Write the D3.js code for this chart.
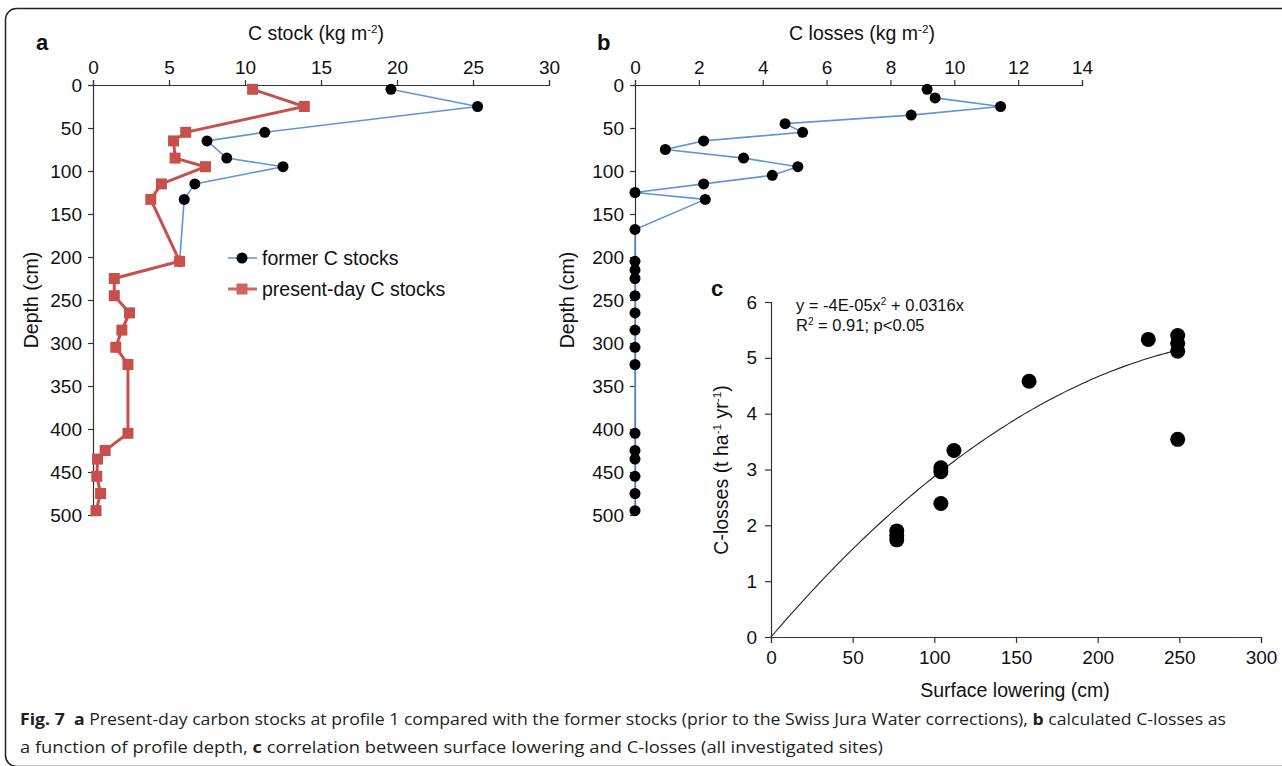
<!DOCTYPE html>
<html>
<head>
<meta charset="utf-8">
<script src="https://cdn.jsdelivr.net/npm/d3@7"></script>
<style>
  body { margin: 0; background: #fff; }
  text { font-family: "Liberation Sans", Arial, sans-serif; fill: #111; }
  .tick text { font-size: 19px; }
  .caption { font-family: "Open Sans", "Noto Sans", sans-serif; font-size: 16.5px; fill: #231f20; }
</style>
</head>
<body>
<svg id="chart"></svg>
<script>
var width = 1282;
var height = 766;

// panel a: C stock profile
var formerDepth = [5, 25, 55, 65, 85, 95, 115, 133, 205];
var formerStock = [19.6, 25.3, 11.3, 7.5, 8.8, 12.5, 6.7, 6.0, 5.7];
var presentDepth = [5, 25, 55, 65, 85, 95, 115, 133, 205, 225, 245, 265, 285, 305, 325, 405, 425, 435, 455, 475, 495];
var presentStock = [10.5, 13.9, 6.1, 5.3, 5.4, 7.4, 4.5, 3.8, 5.7, 1.4, 1.4, 2.4, 1.9, 1.5, 2.3, 2.3, 0.8, 0.3, 0.25, 0.5, 0.2];
var stockTicks = [0, 5, 10, 15, 20, 25, 30];
var depthTicks = [0, 50, 100, 150, 200, 250, 300, 350, 400, 450, 500];

// panel b: C losses profile
var lossDepth = [5, 15, 25, 35, 45, 55, 65, 75, 85, 95, 105, 115, 125, 133, 168, 205, 215, 225, 245, 265, 285, 305, 325, 405, 425, 435, 455, 475, 495];
var lossValue = [9.15, 9.4, 11.45, 8.65, 4.7, 5.25, 2.15, 0.95, 3.4, 5.1, 4.3, 2.15, 0, 2.2, 0, 0, 0, 0, 0, 0, 0, 0, 0, 0, 0, 0, 0, 0, 0];
var lossTicks = [0, 2, 4, 6, 8, 10, 12, 14];

// panel c: surface lowering vs C-losses
var lowering = [77, 77, 77, 104, 104, 104, 112, 158, 231, 249, 249, 249, 249];
var closses = [1.9, 1.82, 1.74, 3.03, 2.96, 2.39, 3.34, 4.58, 5.33, 5.4, 5.26, 5.12, 3.54];
var loweringTicks = [0, 50, 100, 150, 200, 250, 300];
var clossTicks = [0, 1, 2, 3, 4, 5, 6];
// fitted curve as drawn (y = a*x^2 + b*x)
var fitA = -5.45e-5;
var fitB = 0.0342;

var blue = "#5f97d6";
var red = "#c8504c";

var svg = d3.select("#chart")
    .attr("width", width)
    .attr("height", height);

// frame
svg.append("rect")
    .attr("x", 5.5).attr("y", 8.5)
    .attr("width", 1300).attr("height", 758)
    .attr("rx", 11)
    .attr("fill", "none")
    .attr("stroke", "#222")
    .attr("stroke-width", 1.5);

function styleAxis(g) {
    g.attr("font-family", null).attr("font-size", null);
    g.selectAll(".domain").attr("stroke", "#333").attr("stroke-width", 1.2);
    g.selectAll(".tick line").attr("stroke", "#333").attr("stroke-width", 1.2);
    g.selectAll(".tick text").attr("fill", "#111");
}

// text with superscripts: parts like {t: "..."} or {sup: "..."}
function supLabel(g, x, y, parts, rotate, size) {
    size = size || 19.5;
    var t = g.append("text")
        .attr("text-anchor", "middle")
        .style("font-size", size + "px")
        .attr("transform", "translate(" + x + "," + y + ")" + (rotate ? " rotate(-90)" : ""));
    var shift = 0;
    parts.forEach(function(p) {
        if (p.sup) {
            t.append("tspan").attr("dy", -7 - shift).style("font-size", (size * 0.6) + "px").text(p.sup);
            shift = -7;
        } else {
            t.append("tspan").attr("dy", -shift).text(p.t);
            shift = 0;
        }
    });
    return t;
}

// ---------- panel a ----------
var depthA = d3.scaleLinear().domain([0, 500]).range([85, 515]);
var xA = d3.scaleLinear().domain([0, 30]).range([93, 549]);

var axA = svg.append("g")
    .attr("transform", "translate(0,85)")
    .call(d3.axisTop(xA).tickValues(stockTicks).tickSize(5).tickPadding(6));
styleAxis(axA);
var ayA = svg.append("g")
    .attr("transform", "translate(93,0)")
    .call(d3.axisLeft(depthA).tickValues(depthTicks).tickSize(5).tickPadding(6));
styleAxis(ayA);

svg.append("text").attr("x", 36).attr("y", 50)
    .style("font-size", "22px").style("font-weight", "bold").text("a");
supLabel(svg, 316, 40, [{t: "C stock (kg m"}, {sup: "-2"}, {t: ")"}]);
supLabel(svg, 38, 300, [{t: "Depth (cm)"}], true);

var lineA = d3.line()
    .x(function(d) { return xA(d[0]); })
    .y(function(d) { return depthA(d[1]); });

var formerPts = d3.zip(formerStock, formerDepth);
var presentPts = d3.zip(presentStock, presentDepth);

svg.append("path").datum(formerPts)
    .attr("d", lineA).attr("fill", "none")
    .attr("stroke", blue).attr("stroke-width", 1.6);
svg.append("g").selectAll("circle").data(formerPts).enter().append("circle")
    .attr("cx", function(d) { return xA(d[0]); })
    .attr("cy", function(d) { return depthA(d[1]); })
    .attr("r", 5.5).attr("fill", "#000");

svg.append("path").datum(presentPts)
    .attr("d", lineA).attr("fill", "none")
    .attr("stroke", red).attr("stroke-width", 3);
svg.append("g").selectAll("rect").data(presentPts).enter().append("rect")
    .attr("x", function(d) { return xA(d[0]) - 5.5; })
    .attr("y", function(d) { return depthA(d[1]) - 5.5; })
    .attr("width", 11).attr("height", 11).attr("fill", red);

// legend
var leg = svg.append("g");
leg.append("line").attr("x1", 228).attr("x2", 257).attr("y1", 258).attr("y2", 258)
    .attr("stroke", blue).attr("stroke-width", 1.6);
leg.append("circle").attr("cx", 242).attr("cy", 258).attr("r", 5.5).attr("fill", "#000");
leg.append("text").attr("x", 262).attr("y", 265).style("font-size", "19.5px").text("former C stocks");
leg.append("line").attr("x1", 228).attr("x2", 257).attr("y1", 289).attr("y2", 289)
    .attr("stroke", "#d06560").attr("stroke-width", 3);
leg.append("rect").attr("x", 236.5).attr("y", 283.5).attr("width", 11).attr("height", 11).attr("fill", "#d06560");
leg.append("text").attr("x", 262).attr("y", 296).style("font-size", "19.5px").text("present-day C stocks");

// ---------- panel b ----------
var depthB = d3.scaleLinear().domain([0, 500]).range([85, 515]);
var xB = d3.scaleLinear().domain([0, 14]).range([635, 1082]);

var axB = svg.append("g")
    .attr("transform", "translate(0,85)")
    .call(d3.axisTop(xB).tickValues(lossTicks).tickSize(5).tickPadding(6));
styleAxis(axB);
var ayB = svg.append("g")
    .attr("transform", "translate(635,0)")
    .call(d3.axisLeft(depthB).tickValues(depthTicks).tickSize(5).tickPadding(6));
styleAxis(ayB);

svg.append("text").attr("x", 597).attr("y", 50)
    .style("font-size", "22px").style("font-weight", "bold").text("b");
supLabel(svg, 862, 40, [{t: "C losses (kg m"}, {sup: "-2"}, {t: ")"}]);
supLabel(svg, 574, 300, [{t: "Depth (cm)"}], true);

var lossPts = d3.zip(lossValue, lossDepth);
var lineB = d3.line()
    .x(function(d) { return xB(d[0]); })
    .y(function(d) { return depthB(d[1]); });
svg.append("path").datum(lossPts)
    .attr("d", lineB).attr("fill", "none")
    .attr("stroke", blue).attr("stroke-width", 1.6);
svg.append("g").selectAll("circle").data(lossPts).enter().append("circle")
    .attr("cx", function(d) { return xB(d[0]); })
    .attr("cy", function(d) { return depthB(d[1]); })
    .attr("r", 5.5).attr("fill", "#000");

// ---------- panel c ----------
var xC = d3.scaleLinear().domain([0, 300]).range([771, 1261]);
var yC = d3.scaleLinear().domain([0, 6]).range([637, 302]);

var axC = svg.append("g")
    .attr("transform", "translate(0,637)")
    .call(d3.axisBottom(xC).tickValues(loweringTicks).tickFormat(d3.format("d")).tickSize(6).tickPadding(8));
styleAxis(axC);
var ayC = svg.append("g")
    .attr("transform", "translate(771,0)")
    .call(d3.axisLeft(yC).tickValues(clossTicks).tickFormat(d3.format("d")).tickSize(6).tickPadding(8));
styleAxis(ayC);

svg.append("text").attr("x", 711).attr("y", 296)
    .style("font-size", "22px").style("font-weight", "bold").text("c");
supLabel(svg, 1015, 697, [{t: "Surface lowering (cm)"}]);
supLabel(svg, 728, 470, [{t: "C-losses (t ha"}, {sup: "-1"}, {t: " yr"}, {sup: "-1"}, {t: ")"}], true);

var eq = svg.append("text").attr("x", 796).attr("y", 311).style("font-size", "16.5px");
eq.append("tspan").text("y = -4E-05x");
eq.append("tspan").attr("dy", -6).style("font-size", "10px").text("2");
eq.append("tspan").attr("dy", 6).text(" + 0.0316x");
var r2 = svg.append("text").attr("x", 796).attr("y", 331).style("font-size", "16.5px");
r2.append("tspan").text("R");
r2.append("tspan").attr("dy", -6).style("font-size", "10px").text("2");
r2.append("tspan").attr("dy", 6).text(" = 0.91; p<0.05");

var fitX = d3.range(0, 250.5, 2.5);
svg.append("path").datum(fitX)
    .attr("d", d3.line()
        .x(function(d) { return xC(d); })
        .y(function(d) { return yC(fitA * d * d + fitB * d); }))
    .attr("fill", "none").attr("stroke", "#222").attr("stroke-width", 1.1);

svg.append("g").selectAll("circle").data(d3.zip(lowering, closses)).enter().append("circle")
    .attr("cx", function(d) { return xC(d[0]); })
    .attr("cy", function(d) { return yC(d[1]); })
    .attr("r", 7.5).attr("fill", "#000");

// ---------- caption ----------
var cap1 = svg.append("text").attr("class", "caption").attr("x", 20).attr("y", 725)
    .attr("textLength", 1206).attr("lengthAdjust", "spacingAndGlyphs");
cap1.append("tspan").style("font-weight", "bold").text("Fig. 7");
cap1.append("tspan").text("\u00a0\u00a0");
cap1.append("tspan").style("font-weight", "bold").text("a");
cap1.append("tspan").text(" Present-day carbon stocks at profile 1 compared with the former stocks (prior to the Swiss Jura Water corrections), ");
cap1.append("tspan").style("font-weight", "bold").text("b");
cap1.append("tspan").text(" calculated C-losses as");

var cap2 = svg.append("text").attr("class", "caption").attr("x", 20).attr("y", 753)
    .attr("textLength", 863).attr("lengthAdjust", "spacingAndGlyphs");
cap2.append("tspan").text("a function of profile depth, ");
cap2.append("tspan").style("font-weight", "bold").text("c");
cap2.append("tspan").text(" correlation between surface lowering and C-losses (all investigated sites)");
</script>
</body>
</html>
